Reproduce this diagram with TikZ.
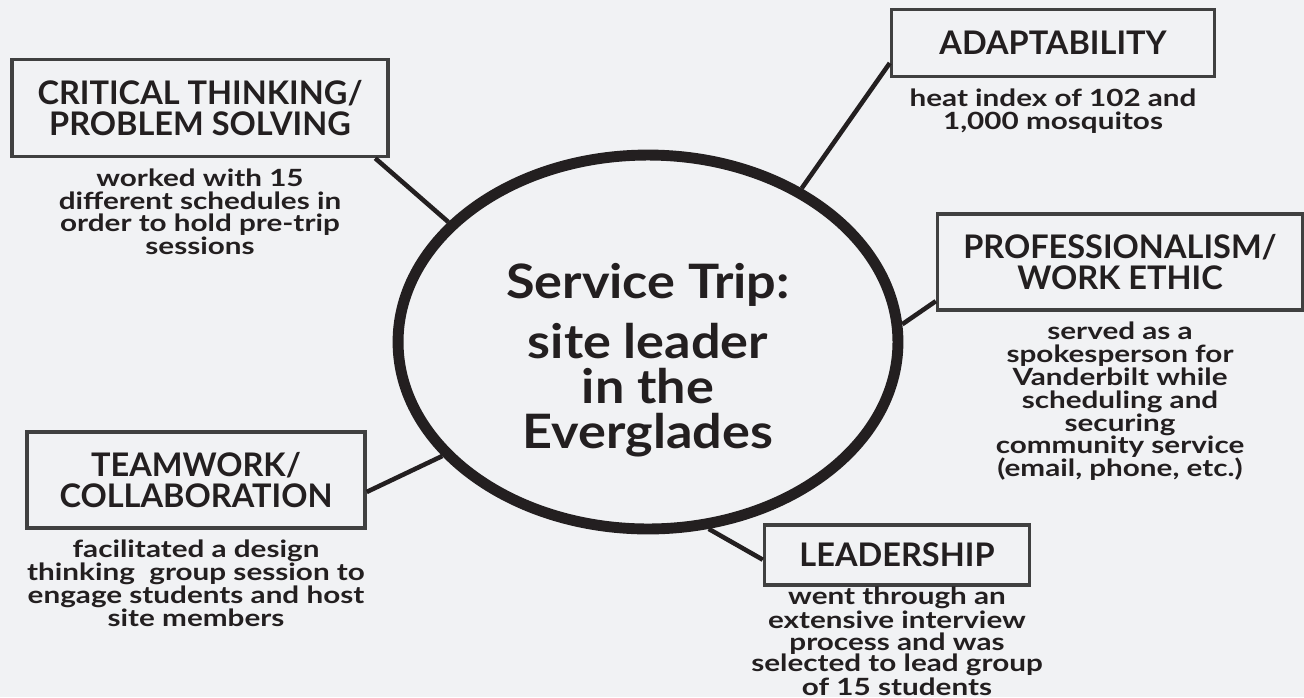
\documentclass[tikz,border=0pt]{standalone}
\usepackage{fontspec}
\setmainfont{Lato}
\usepackage{xcolor}
\usepackage{tikz}
\usetikzlibrary{positioning, shapes.geometric}

\definecolor{paper}{HTML}{F1F2F4}
\definecolor{ink}{HTML}{231F20}
\definecolor{boxline}{HTML}{404040}

\begin{document}
\begin{tikzpicture}[x=0.02cm, y=-0.02cm,
    skill/.style={draw=boxline, line width=2pt, rectangle, inner sep=0pt,
        align=center, text=ink,
        font=\fontsize{18.5}{17.5}\selectfont\bfseries},
    note/.style={align=center, text=ink, inner sep=0pt,
        font=\fontsize{13.5}{13}\selectfont\bfseries\addfontfeature{FakeStretch=1.25}},
    link/.style={draw=ink, line width=2.6pt}]
\fill[paper] (0,0) rectangle (1304,697);
\useasboundingbox (0,0) rectangle (1304,697);

% central topic
\node[ellipse, draw=ink, line width=6.2pt, minimum width=10cm, minimum height=7.48cm,
      inner sep=0pt] (hub) at (648,342) {};
\node[align=center, text=ink, inner sep=0pt,
      font=\fontsize{27}{25.5}\selectfont\bfseries\addfontfeature{FakeStretch=1.1}]
      (hubtext) at (648,360) {Service Trip:\\[0.3cm] site leader\\in the\\Everglades};

% skill boxes
\node[skill, minimum width=7.52cm, minimum height=1.94cm] (crit) at (200,108) {CRITICAL THINKING/\\PROBLEM SOLVING};
\node[skill, minimum width=6.46cm, minimum height=1.34cm] (adapt) at (1053,43) {ADAPTABILITY};
\node[skill, minimum width=7.3cm, minimum height=1.92cm] (prof) at (1120,262) {PROFESSIONALISM/\\WORK ETHIC};
\node[skill, minimum width=6.76cm, minimum height=1.92cm] (team) at (196,480) {TEAMWORK/\\COLLABORATION};
\node[skill, minimum width=5.3cm, minimum height=1.2cm] (lead) at (897,555) {LEADERSHIP};

% what was done
\node[note, below=0.2cm of crit] (critnote) {worked with 15\\different schedules in\\order to hold pre-trip\\sessions};
\node[note, below=0.2cm of adapt] (adaptnote) {heat index of 102 and\\1,000 mosquitos};
\node[note, below=0.2cm of prof] (profnote) {served as a\\spokesperson for\\Vanderbilt while\\scheduling and\\securing\\community service\\(email, phone, etc.)};
\node[note, below=0.2cm of team] (teamnote) {facilitated a design\\thinking\ \ group session to\\engage students and host\\site members};
\node[note, below=0cm of lead, font=\fontsize{13.5}{12.4}\selectfont\bfseries\addfontfeature{FakeStretch=1.25}]
      (leadnote) {went through an\\extensive interview\\process and was\\selected to lead group\\of 15 students};

% connectors
\foreach \a/\b in {149/crit.-16.5, 45/adapt.187, 4/prof.192, 209/team.-4, 288/lead.182} {
    \draw[link] (hub.\a) -- (\b);
}
\end{tikzpicture}
\end{document}
